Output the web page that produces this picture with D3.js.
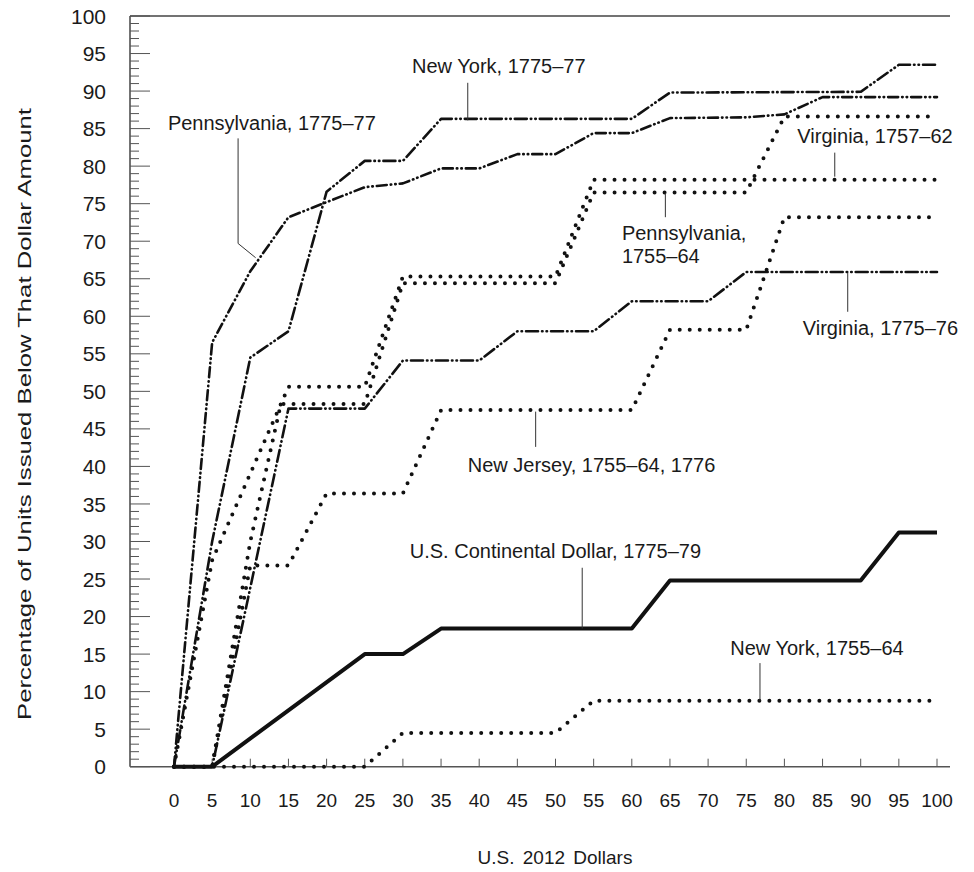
<!DOCTYPE html>
<html lang="en">
  <head>
    <meta charset="UTF-8" />
    <title>Colonial currency denominations</title>
    <script src="https://d3js.org/d3.v7.min.js"></script>
    <style>
      body { margin: 0; background: #fff; }
      text { font-family: "Liberation Sans", Arial, sans-serif; fill: #1a1a1a; }
    </style>
  </head>
  <body>
    <div id="viz"></div>
    <script>
      // tick values
      const xTicks = d3.range(0, 101, 5);
      const yTicks = d3.range(0, 101, 5);
      const yMinor = d3.range(0, 101, 1);

      // series, [dollars, percent]
      const pennsylvania177577 = [[0, 0], [5, 56.5], [10, 66], [15, 73.2], [25, 77.2], [30, 77.7], [35, 79.7], [40, 79.7], [45, 81.6], [50, 81.6], [55, 84.4], [60, 84.4], [65, 86.4], [75, 86.5], [80, 86.9], [85, 89.2], [100, 89.2]];
      const newYork177577 = [[0, 0], [5, 30], [10, 54.5], [15, 58], [20, 76.6], [25, 80.7], [30, 80.7], [35, 86.3], [60, 86.3], [65, 89.8], [90, 89.9], [95, 93.5], [100, 93.5]];
      const virginia177576 = [[0, 0], [5, 0], [15, 47.7], [25, 47.7], [30, 54.1], [40, 54.1], [45, 58], [55, 58], [60, 62], [70, 62], [75, 65.9], [100, 65.9]];
      const virginia175762 = [[0, 0], [5, 27.5], [15, 50.6], [25, 50.6], [30, 65.3], [50, 65.3], [55, 78.2], [100, 78.2]];
      const pennsylvania175564 = [[0, 0], [5, 0], [10, 30], [14, 48.3], [25, 48.3], [30, 64.4], [50, 64.4], [55, 76.5], [75, 76.5], [80, 86.6], [100, 86.6]];
      const newJersey = [[0, 0], [5, 0], [10, 26.8], [15, 26.8], [20, 36.4], [30, 36.4], [35, 47.5], [60, 47.5], [65, 58.2], [75, 58.2], [80, 73.2], [100, 73.2]];
      const continental = [[0, 0], [5, 0], [25, 15], [30, 15], [35, 18.4], [60, 18.4], [65, 24.8], [90, 24.8], [95, 31.2], [100, 31.2]];
      const newYork175564 = [[0, 0], [5, 0], [25, 0], [30, 4.5], [50, 4.5], [55, 8.8], [100, 8.8]];

      const width = 974, height = 872;
      const svg = d3.select("#viz").append("svg")
        .attr("width", width).attr("height", height);

      const x = d3.scaleLinear().domain([0, 100]).range([174, 937]);
      const y = d3.scaleLinear().domain([0, 100]).range([766.7, 16]);

      const axisLeft = 130, axisRight = 950;

      // frame: top line, left axis, bottom axis
      svg.append("line").attr("x1", axisLeft).attr("x2", axisRight)
        .attr("y1", y(100)).attr("y2", y(100))
        .attr("stroke", "#444").attr("stroke-width", 1.5);
      svg.append("line").attr("x1", axisLeft).attr("x2", axisLeft)
        .attr("y1", y(100)).attr("y2", y(0))
        .attr("stroke", "#444").attr("stroke-width", 1.5);
      svg.append("line").attr("x1", axisLeft).attr("x2", axisRight)
        .attr("y1", y(0)).attr("y2", y(0))
        .attr("stroke", "#555").attr("stroke-width", 1.5);

      // y ticks, inside the frame
      svg.append("g").selectAll("line").data(yMinor).join("line")
        .attr("x1", axisLeft)
        .attr("x2", d => axisLeft + (d % 5 === 0 ? 20 : 9))
        .attr("y1", d => y(d)).attr("y2", d => y(d))
        .attr("stroke", "#555").attr("stroke-width", 1);

      svg.append("g").selectAll("text").data(yTicks).join("text")
        .attr("x", 106).attr("y", d => y(d))
        .attr("dy", "0.36em")
        .attr("text-anchor", "end")
        .style("font-size", "21px")
        .text(d => d);

      // x ticks
      svg.append("g").selectAll("line").data(xTicks).join("line")
        .attr("x1", d => x(d)).attr("x2", d => x(d))
        .attr("y1", y(0)).attr("y2", y(0) - 8)
        .attr("stroke", "#555").attr("stroke-width", 1);

      svg.append("g").selectAll("text").data(xTicks).join("text")
        .attr("x", d => x(d)).attr("y", 807)
        .attr("text-anchor", "middle")
        .style("font-size", "19px")
        .text(d => d);

      // axis titles
      svg.append("text")
        .attr("x", 555).attr("y", 864)
        .attr("text-anchor", "middle")
        .style("font-size", "19px")
        .style("word-spacing", "3px")
        .text("U.S. 2012 Dollars");

      svg.append("text")
        .attr("transform", "translate(31,414) rotate(-90)")
        .attr("text-anchor", "middle")
        .attr("textLength", 612)
        .attr("lengthAdjust", "spacingAndGlyphs")
        .style("font-size", "19px")
        .text("Percentage of Units Issued Below That Dollar Amount");

      // lines
      const line = d3.line().x(d => x(d[0])).y(d => y(d[1]));
      const dashDotDot = "12,4,0.5,4,0.5,4";
      const dotted = "0,10";

      const series = [
        { data: newYork175564, dash: dotted, w: 4, cap: "round" },
        { data: newJersey, dash: dotted, w: 4, cap: "round" },
        { data: pennsylvania175564, dash: dotted, w: 4, cap: "round" },
        { data: virginia175762, dash: dotted, w: 4, cap: "round" },
        { data: virginia177576, dash: dashDotDot, w: 2.6, cap: "round" },
        { data: pennsylvania177577, dash: "10,4,0.5,4,0.5,4", w: 2.6, cap: "round" },
        { data: newYork177577, dash: dashDotDot, w: 2.6, cap: "round" },
        { data: continental, dash: null, w: 4, cap: "butt" }
      ];

      svg.append("g").selectAll("path").data(series).join("path")
        .attr("d", d => line(d.data))
        .attr("fill", "none")
        .attr("stroke", "#111")
        .attr("stroke-width", d => d.w)
        .attr("stroke-linecap", d => d.cap)
        .attr("stroke-linejoin", "round")
        .attr("stroke-dasharray", d => d.dash);

      // labels with leader lines (positions in data units)
      const labels = [
        { text: ["New York, 1775\u201377"], at: [31.2, 92.4], leader: [[38.5, 91.1], [38.5, 86.1]] },
        { text: ["Pennsylvania, 1775\u201377"], at: [-0.8, 84.8], leader: [[8.4, 83.7], [8.4, 69.7], [10.7, 67.8]] },
        { text: ["Virginia, 1757\u201362"], at: [81.7, 83.1], leader: [[86.6, 81.8], [86.6, 78.6]] },
        { text: ["Pennsylvania,", "1755\u201364"], at: [58.7, 70.2], leader: [[64.4, 76.4], [64.4, 73.2]] },
        { text: ["Virginia, 1775\u201376"], at: [82.4, 57.5], leader: [[88.3, 65.8], [88.3, 60.6]] },
        { text: ["New Jersey, 1755\u201364, 1776"], at: [38.5, 39.3], leader: [[47.4, 47.3], [47.4, 42.6]] },
        { text: ["U.S. Continental Dollar, 1775\u201379"], at: [30.9, 27.8], leader: [[53.5, 26.5], [53.5, 18.4]] },
        { text: ["New York, 1755\u201364"], at: [72.9, 14.9], leader: [[76.8, 13.8], [76.8, 8.8]] }
      ];

      const ann = svg.append("g");
      labels.forEach(l => {
        ann.append("path")
          .attr("d", line(l.leader))
          .attr("fill", "none")
          .attr("stroke", "#333")
          .attr("stroke-width", 1);
        const t = ann.append("text")
          .attr("x", x(l.at[0])).attr("y", y(l.at[1]))
          .style("font-size", "20px");
        l.text.forEach((s, i) => {
          t.append("tspan")
            .attr("x", x(l.at[0]))
            .attr("dy", i === 0 ? 0 : 23)
            .text(s);
        });
      });
    </script>
  </body>
</html>
